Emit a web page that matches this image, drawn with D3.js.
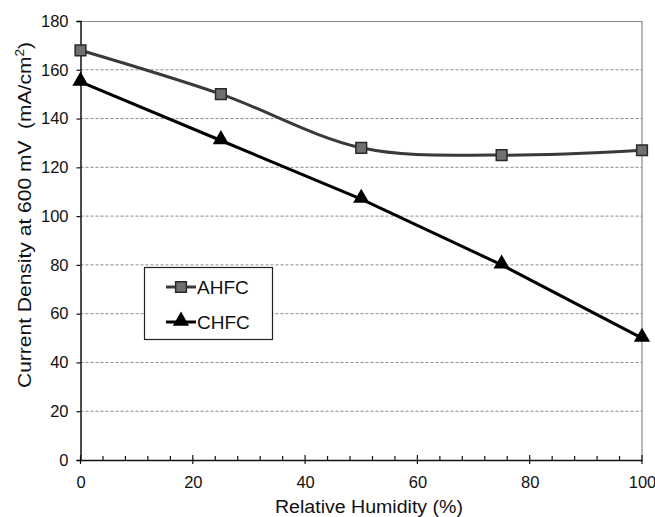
<!DOCTYPE html>
<html>
<head>
<meta charset="utf-8">
<script src="https://cdn.jsdelivr.net/npm/d3@7"></script>
<style>
  body { margin: 0; background: #fff; }
  text { font-family: Arial, "Liberation Sans", sans-serif; fill: #111; }
</style>
</head>
<body>
<svg id="chart"></svg>
<script>
const humidity = [0, 25, 50, 75, 100];
const ahfc = [168, 150, 128, 125, 127];
const chfc = [155, 131, 107, 80, 50];
const seriesNames = ["AHFC", "CHFC"];
const yTicks = [0, 20, 40, 60, 80, 100, 120, 140, 160, 180];
const xTicks = [0, 20, 40, 60, 80, 100];

const svgWidth = 655, svgHeight = 517;
const margin = {top: 21, right: 13, bottom: 57, left: 80.5};
const width = svgWidth - margin.left - margin.right,
      height = svgHeight - margin.top - margin.bottom;

const chart = d3.select("#chart")
    .attr("width", svgWidth)
    .attr("height", svgHeight);

const g = chart.append("g")
    .attr("transform", `translate(${margin.left},${margin.top})`);

var xScale = d3.scaleLinear().domain([0, 100]).range([0, width]);
var yScale = d3.scaleLinear().domain([0, 180]).range([height, 0]);

// gridlines
g.selectAll(".grid")
    .data(yTicks.filter(d => d > 0 && d < 180))
    .enter().append("line")
    .attr("x1", 0).attr("x2", width)
    .attr("y1", d => yScale(d)).attr("y2", d => yScale(d))
    .attr("stroke", "#8a8a8a")
    .attr("stroke-width", 1)
    .attr("stroke-dasharray", "3,2");

// plot area border (top, right)
g.append("path")
    .attr("d", `M0,0.5H${width}V${height}`)
    .attr("fill", "none")
    .attr("stroke", "#8a8a8a")
    .attr("stroke-width", 1.2);

// x axis
var xAxis = d3.axisBottom(xScale).tickValues(xTicks).tickSize(0).tickPadding(16);
var xg = g.append("g")
    .attr("transform", `translate(0,${height})`)
    .call(xAxis);
xg.select(".domain").attr("stroke", "#111").attr("stroke-width", 1.5);
xg.selectAll("text").style("font-size", "16.5px").attr("fill", "#111");

// minor ticks (inside) and major ticks (crossing)
const minor = d3.range(0, 101, 4).filter(d => d % 20 !== 0);
g.selectAll(".minor").data(minor).enter().append("line")
    .attr("x1", d => xScale(d)).attr("x2", d => xScale(d))
    .attr("y1", height).attr("y2", height - 4)
    .attr("stroke", "#111").attr("stroke-width", 1.2);
g.selectAll(".major").data(xTicks).enter().append("line")
    .attr("x1", d => xScale(d)).attr("x2", d => xScale(d))
    .attr("y1", height + 4).attr("y2", height - 5)
    .attr("stroke", "#111").attr("stroke-width", 1.2);

// y axis
var yAxis = d3.axisLeft(yScale).tickValues(yTicks).tickSize(4).tickPadding(8);
var yg = g.append("g").call(yAxis);
yg.select(".domain").attr("stroke", "#111").attr("stroke-width", 1.5);
yg.selectAll(".tick line").attr("stroke", "#111").attr("stroke-width", 1.2);
yg.selectAll("text").style("font-size", "16.5px").attr("fill", "#111");

// axis titles
chart.append("text")
    .attr("x", 275)
    .attr("y", 513)
    .attr("textLength", 188)
    .attr("lengthAdjust", "spacingAndGlyphs")
    .style("font-size", "18px")
    .text("Relative Humidity (%)");

const yTitle = chart.append("text")
    .attr("transform", "translate(31,388) rotate(-90)")
    .attr("textLength", 346)
    .attr("lengthAdjust", "spacingAndGlyphs")
    .style("font-size", "18.5px")
    .style("white-space", "pre");
yTitle.append("tspan").text("Current Density at 600\u00a0mV\u00a0\u00a0(mA/cm");
yTitle.append("tspan").attr("baseline-shift", "super").style("font-size", "12px").text("2");
yTitle.append("tspan").text(")");

// lines
var smoothLine = d3.line()
    .x((d, i) => xScale(humidity[i]))
    .y(d => yScale(d))
    .curve(d3.curveCardinal.tension(0));
var straightLine = d3.line()
    .x((d, i) => xScale(humidity[i]))
    .y(d => yScale(d));

g.append("path").datum(ahfc)
    .attr("d", smoothLine)
    .attr("fill", "none")
    .attr("stroke", "#3a3a3a")
    .attr("stroke-width", 3);

g.append("path").datum(chfc)
    .attr("d", straightLine)
    .attr("fill", "none")
    .attr("stroke", "#000")
    .attr("stroke-width", 3);

const square = d3.symbol().type(d3.symbolSquare).size(115);
const triangle = d3.symbol().type(d3.symbolTriangle).size(115);

g.selectAll(".sq").data(ahfc).enter().append("path")
    .attr("d", square)
    .attr("transform", (d, i) => `translate(${xScale(humidity[i])},${yScale(d)})`)
    .attr("fill", "#707070")
    .attr("stroke", "#2a2a2a")
    .attr("stroke-width", 1.5);

g.selectAll(".tri").data(chfc).enter().append("path")
    .attr("d", triangle)
    .attr("transform", (d, i) => `translate(${xScale(humidity[i])},${yScale(d) - 1})`)
    .attr("fill", "#000");

// legend
const legend = chart.append("g").attr("transform", "translate(144,267)");
legend.append("rect")
    .attr("x", 0.5).attr("y", 0.5)
    .attr("width", 128).attr("height", 72)
    .attr("fill", "#fff")
    .attr("stroke", "#222")
    .attr("stroke-width", 1.2);

const legendItems = legend.selectAll(".item").data(seriesNames).enter().append("g")
    .attr("transform", (d, i) => `translate(0,${20 + i * 35})`);
legendItems.append("line")
    .attr("x1", 22).attr("x2", 52)
    .attr("stroke", (d, i) => i === 0 ? "#3a3a3a" : "#000")
    .attr("stroke-width", 3);
legendItems.append("path")
    .attr("d", (d, i) => i === 0 ? square() : triangle())
    .attr("transform", (d, i) => `translate(37,${i === 0 ? 0 : -1})`)
    .attr("fill", (d, i) => i === 0 ? "#707070" : "#000")
    .attr("stroke", (d, i) => i === 0 ? "#2a2a2a" : "none")
    .attr("stroke-width", 1.5);
legendItems.append("text")
    .attr("x", 53).attr("y", 7)
    .style("font-size", "19px")
    .text(d => d);
</script>
</body>
</html>
